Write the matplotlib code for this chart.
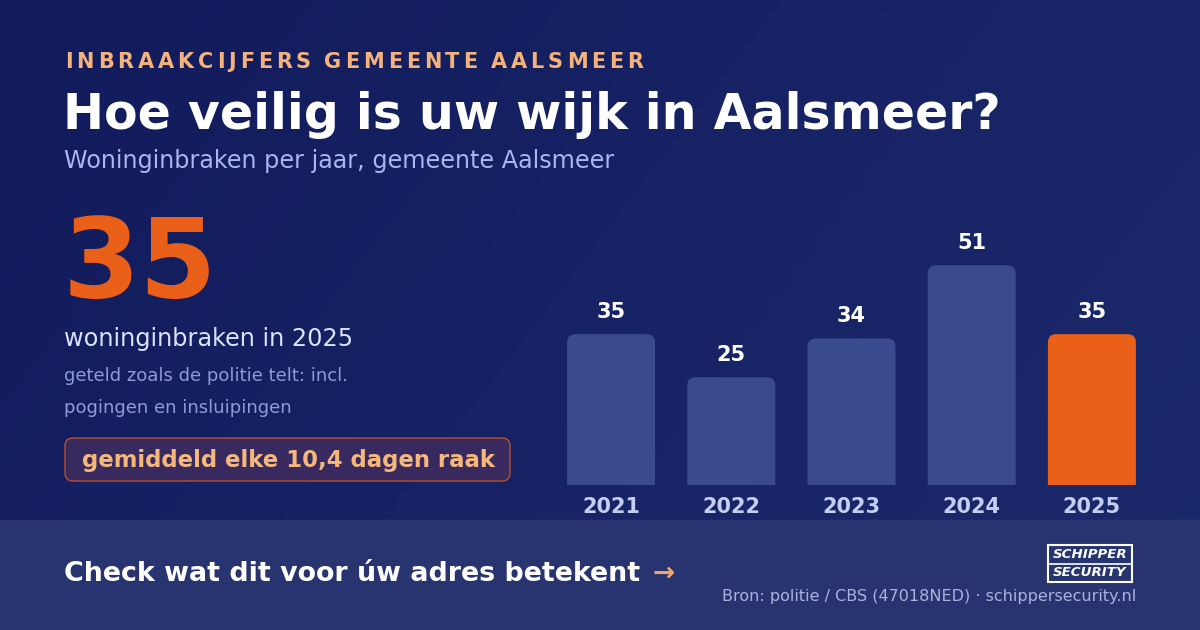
import numpy as np
import matplotlib.pyplot as plt
from matplotlib.patches import FancyBboxPatch, Rectangle

years = ["2021", "2022", "2023", "2024", "2025"]
counts = [35, 25, 34, 51, 35]
bar_colors = ["#3a4a8f", "#3a4a8f", "#3a4a8f", "#3a4a8f", "#eb6018"]

W, H = 1200, 630
fig = plt.figure(figsize=(12, 6.3), dpi=100)

# background gradient
bg = fig.add_axes([0, 0, 1, 1])
bg.set_axis_off()
gx = np.linspace(0, 1, 200)
grad = np.add.outer(np.linspace(0, 0.4, 100), gx)
bg.imshow(grad, cmap=plt.matplotlib.colors.LinearSegmentedColormap.from_list(
    "bg", ["#121b5c", "#1b2a6c"]), extent=[0, W, H, 0], aspect="auto")
bg.add_patch(Rectangle((0, 520), W, 110, color="#283470", zorder=2))
bg.set_xlim(0, W)
bg.set_ylim(H, 0)

def px(x, y):
    return x / W, 1 - y / H

# letter-spaced kicker
fig.canvas.draw()
r = fig.canvas.get_renderer()
x = 65
for ch in "INBRAAKCIJFERS GEMEENTE AALSMEER":
    t = fig.text(*px(x, 62), ch, color="#f5b27a", fontsize=15, fontweight="heavy", va="center")
    x += t.get_window_extent(r).width + 3.9 if ch != " " else 9

fig.text(*px(63, 115), "Hoe veilig is uw wijk in Aalsmeer?", color="white",
         fontsize=35.3, fontweight="bold", va="center")
fig.text(*px(64, 161), "Woninginbraken per jaar, gemeente Aalsmeer", color="#a9b6ef",
         fontsize=17.2, va="center")
fig.text(*px(63, 266), str(counts[-1]), color="#eb6018", fontsize=80,
         fontweight="bold", va="center")
fig.text(*px(64, 339), "woninginbraken in " + years[-1], color="#dde3ff", fontsize=17.3, va="center")
fig.text(*px(64, 376), "geteld zoals de politie telt: incl.", color="#8f9bd6", fontsize=13, va="center")
fig.text(*px(64, 408), "pogingen en insluipingen", color="#8f9bd6", fontsize=13, va="center")

bg.add_patch(FancyBboxPatch((65, 438), 445, 43, boxstyle="round,pad=0,rounding_size=8",
                            fc="#382a5e", ec="#b8502e", lw=1, zorder=3))
fig.text(*px(288, 460), "gemiddeld elke 10,4 dagen raak", color="#f5b77a", fontsize=16.4,
         fontweight="bold", ha="center", va="center")

# bars
ax = fig.add_axes([551 / W, 1 - 485 / H, 601 / W, 285 / H])
ax.set_axis_off()
ax.set_xlim(-0.5, 4.5)
ax.set_ylim(0, 285 / 4.31)
bw = 88 / 120.2
for i, (v, c) in enumerate(zip(counts, bar_colors)):
    ax.add_patch(FancyBboxPatch((i - bw / 2, -4), bw, v + 4,
                                boxstyle="round,pad=0,rounding_size=0.07",
                                mutation_aspect=27.8, fc=c, ec="none"))
    ax.text(i, v + 5.2, str(v), color="white", fontsize=15, fontweight="bold",
            ha="center", va="center")
    ax.text(i, -5.0, years[i], color="#c5cdf0", fontsize=15, fontweight="bold",
            ha="center", va="center", clip_on=False)

# footer
fig.text(*px(64, 574), "Check wat dit voor úw adres betekent", color="white", fontsize=19.4,
         fontweight="bold", va="center")
fig.text(*px(652, 574), "→", color="#f5a56a", fontsize=19, fontweight="bold", va="center")
fig.text(*px(1136, 597), "Bron: politie / CBS (47018NED) · schippersecurity.nl",
         color="#aab3e0", fontsize=11.5, ha="right", va="center")
bg.add_patch(Rectangle((1048, 545), 84, 37, fc="none", ec="white", lw=1.5, zorder=4))
bg.plot([1048, 1132], [563.5, 563.5], color="white", lw=1.2, zorder=4)
fig.text(*px(1090, 554.5), "SCHIPPER", color="white", fontsize=9.6, fontweight="bold",
         style="italic", ha="center", va="center")
fig.text(*px(1090, 573), "SECURITY", color="white", fontsize=9.6, fontweight="bold",
         style="italic", ha="center", va="center")

fig.savefig("out.png", dpi=100)
